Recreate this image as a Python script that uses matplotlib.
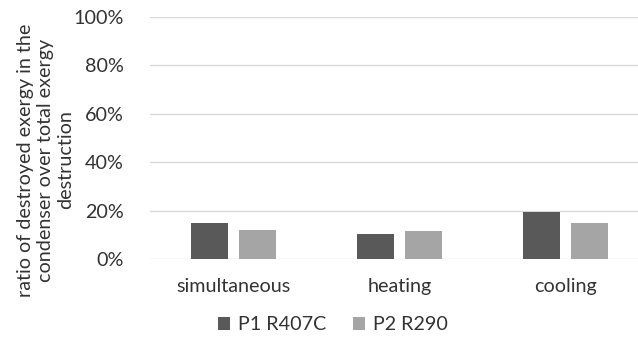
import numpy as np
import matplotlib
matplotlib.use("Agg")
import matplotlib.pyplot as plt
from matplotlib.ticker import PercentFormatter

categories = ["simultaneous", "heating", "cooling"]
p1_r407c = [14.8, 10.4, 19.6]
p2_r290 = [12.0, 11.7, 14.8]
series_names = ["P1 R407C", "P2 R290"]
y_ticks = [0, 20, 40, 60, 80, 100]

plt.rcParams["font.family"] = ["Lato", "DejaVu Sans"]
text_col = "#333333"
fs = 14.2

fig = plt.figure(figsize=(6.38, 3.38), dpi=100)
ax = fig.add_axes([150 / 638, 1 - 259 / 338, 488 / 638, 242 / 338])

x = np.arange(len(categories))
w = 0.223
off = 0.145
ax.bar(x - off, p1_r407c, width=w, color="#595959", label=series_names[0], zorder=3)
ax.bar(x + off, p2_r290, width=w, color="#A5A5A5", label=series_names[1], zorder=3)

ax.set_xlim(-0.5, 2.434)
ax.set_ylim(0, 100)
ax.set_yticks(y_ticks)
ax.yaxis.set_major_formatter(PercentFormatter(decimals=0))
ax.set_xticks(x)
ax.set_xticklabels(categories)
ax.grid(axis="y", color="#D9D9D9", linewidth=1, zorder=0)
for s in ax.spines.values():
    s.set_visible(False)
ax.tick_params(axis="both", length=0, labelsize=fs, colors=text_col)
ax.tick_params(axis="y", pad=19)
ax.tick_params(axis="x", pad=14)

fig.text(46 / 638, 1 - 160 / 338,
         "ratio of destroyed exergy in the\ncondenser over total exergy\ndestruction",
         rotation=90, ha="center", va="center", fontsize=fs, color=text_col,
         linespacing=1.22)

fig.legend(loc="center", bbox_to_anchor=(333 / 638, 1 - 325 / 338), ncol=2,
           frameon=False, fontsize=fs, labelcolor=text_col,
           handlelength=0.6, handleheight=0.6, handletextpad=0.4, columnspacing=1.4)

fig.savefig("out.png", dpi=100)
